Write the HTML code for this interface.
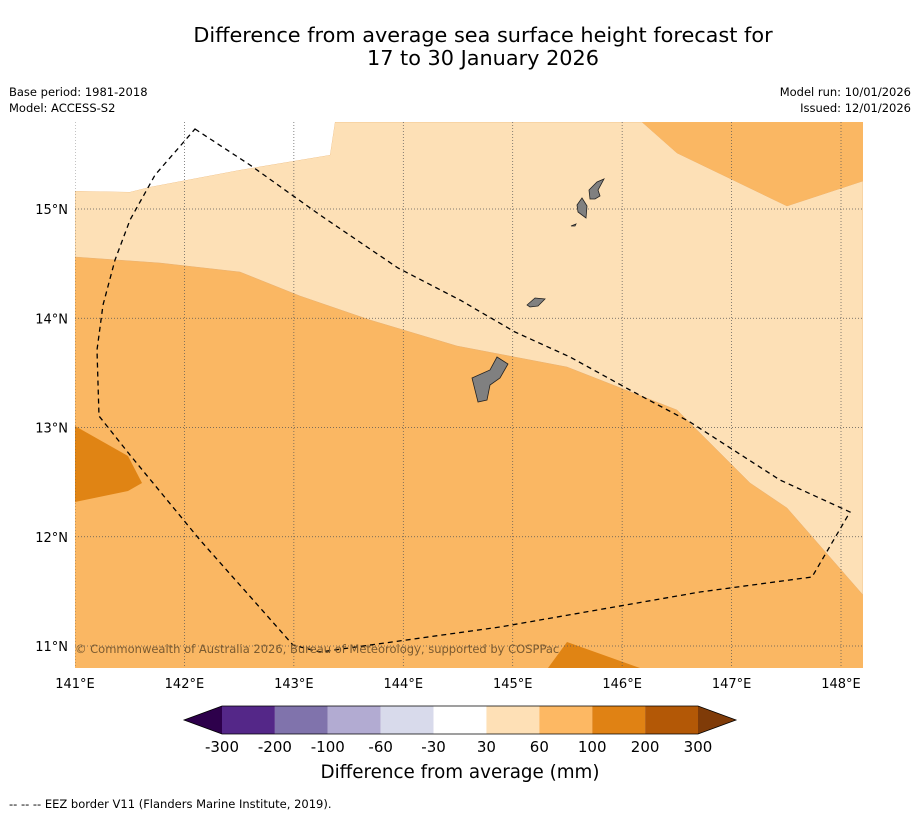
<!DOCTYPE html>
<html><head><meta charset="utf-8"><style>
body{margin:0;background:#fff;width:919px;height:816px;overflow:hidden;font-family:"DejaVu Sans",sans-serif}
svg{display:block}
</style></head><body>
<svg id="chart" width="919" height="816" xmlns="http://www.w3.org/2000/svg" font-family="DejaVu Sans, sans-serif">
<text x="483" y="42" font-size="20.8" text-anchor="middle">Difference from average sea surface height forecast for</text>
<text x="483" y="65" font-size="20.8" text-anchor="middle">17 to 30 January 2026</text>
<text x="9" y="96" font-size="11.5">Base period: 1981-2018</text>
<text x="9" y="112" font-size="11.5">Model: ACCESS-S2</text>
<text x="911" y="96" font-size="11.5" text-anchor="end">Model run: 10/01/2026</text>
<text x="911" y="112" font-size="11.5" text-anchor="end">Issued: 12/01/2026</text>
<defs><clipPath id="mapclip"><rect x="75" y="122" width="788" height="546"/></clipPath></defs>
<g clip-path="url(#mapclip)">
<rect x="75" y="122" width="788" height="546" fill="#fab763"/>
<path d="M75,257 L160,263 L240,272 L300,296 L370,320 L457,346 L567,367 L677,410 L750,483 L787,508 L863,595 L863,181 L787,206 L677,153 L642,122 L335,122 L330,155 L240,170 L150,187 L130,192 L75,191Z" fill="#fde0b6" stroke="#e8b070" stroke-width="0.5"/>
<path d="M75,122 L335,122 L330,155 L240,170 L150,187 L130,192 L75,191Z" fill="#ffffff"/>
<path d="M642,122 L677,153 L787,206 L863,181 L863,122Z" fill="#fab763"/>
<path d="M75,426 L128,456 L142,483 L128,491 L75,502Z" fill="#e08414"/>
<path d="M548,668 L567,642 L640,668Z" fill="#e08414"/>
<g id="grid"></g>
<g fill="#808080" stroke="#222" stroke-width="0.8">
<path d="M472,378 L490,370 L497,357 L508,364 L500,378 L490,385 L487,400 L478,402 L475,390Z"/>
<path d="M527,305 L535,298 L545,299 L538,306 L530,307Z"/>
<path d="M577,205 L582,198 L587,206 L586,218 L578,212Z"/>
<path d="M589,190 L597,182 L604,179 L598,190 L600,196 L595,199 L590,199Z"/>
<path d="M571,226 L576,224 L575,226Z"/>
</g>
<path d="M195,129 L250,165 L320,215 L398,268 L460,300 L515,332 L570,357 L630,390 L690,422 L780,480 L850,512 L812,577 L700,592 L500,627 L320,652 L293,645 L200,540 L130,455 L99,416 L97,350 L103,305 L115,260 L130,220 L155,175Z" fill="none" stroke="#000" stroke-width="1.3" stroke-dasharray="5,4"/>
<text x="75" y="653" font-size="11.5" fill="#7a5a30">© Commonwealth of Australia 2026, Bureau of Meteorology, supported by COSPPac</text>
</g>
<g id="axes"></g>
<g id="cbar"></g>
<text x="460" y="778" font-size="18.3" text-anchor="middle">Difference from average (mm)</text>
<text x="9" y="808" font-size="11.5">--  --  -- EEZ border V11 (Flanders Marine Institute, 2019).</text>
</svg>
<script>
const lonTicks=[141,142,143,144,145,146,147,148];
const latTicks=[11,12,13,14,15];
const levelLabels=["-300","-200","-100","-60","-30","30","60","100","200","300"];
const binColors=["#542788","#8073ac","#b2abd2","#d8daeb","#ffffff","#fee0b6","#fdb863","#e08214","#b35806"];
const extColors=["#2d004b","#7f3b08"];
const NS="http://www.w3.org/2000/svg";
function xLon(l){return 75+(l-141)*109.43;}
function yLat(l){return 209+(15-l)*109.25;}
function mk(t,a,p){const e=document.createElementNS(NS,t);for(const k in a)e.setAttribute(k,a[k]);p.appendChild(e);return e;}
const grid=document.getElementById('grid'),axes=document.getElementById('axes'),cb=document.getElementById('cbar');
lonTicks.forEach(l=>{const x=xLon(l);
const g=mk('line',{x1:x,x2:x,y1:122,y2:668,stroke:'#555','stroke-width':0.7,'stroke-dasharray':'1,2'},grid);


const t=mk('text',{x:x,y:688,'font-size':13,'text-anchor':'middle'},axes);t.textContent=l+'°E';

});
latTicks.forEach(l=>{const y=yLat(l);
const g=mk('line',{x1:75,x2:863,y1:y,y2:y,stroke:'#555','stroke-width':0.7,'stroke-dasharray':'1,2'},grid);


const t=mk('text',{x:68,y:y+5,'font-size':13,'text-anchor':'end'},axes);t.textContent=l+'°N';

});
const x0=222,y0=706,h=28,n=levelLabels.length;
function cx(i){return x0+i*(476/(n-1));}
binColors.forEach((c,i)=>{const r=mk('rect',{x:cx(i),y:y0,width:cx(i+1)-cx(i),height:h,fill:c},cb);

});
const tl=mk('polygon',{points:`${cx(0)},${y0} ${cx(0)},${y0+h} 184,${y0+h/2}`,fill:extColors[0]},cb);


const tr=mk('polygon',{points:`${cx(n-1)},${y0} ${cx(n-1)},${y0+h} 736,${y0+h/2}`,fill:extColors[1]},cb);


const ol=mk('polygon',{points:`184,${y0+h/2} ${cx(0)},${y0} ${cx(n-1)},${y0} 736,${y0+h/2} ${cx(n-1)},${y0+h} ${cx(0)},${y0+h}`,fill:'none',stroke:'#000','stroke-width':0.8},cb);


levelLabels.forEach((s,i)=>{const t=mk('text',{x:cx(i),y:752,'font-size':15,'text-anchor':'middle'},cb);t.textContent=s;

});
</script>
</body></html>
